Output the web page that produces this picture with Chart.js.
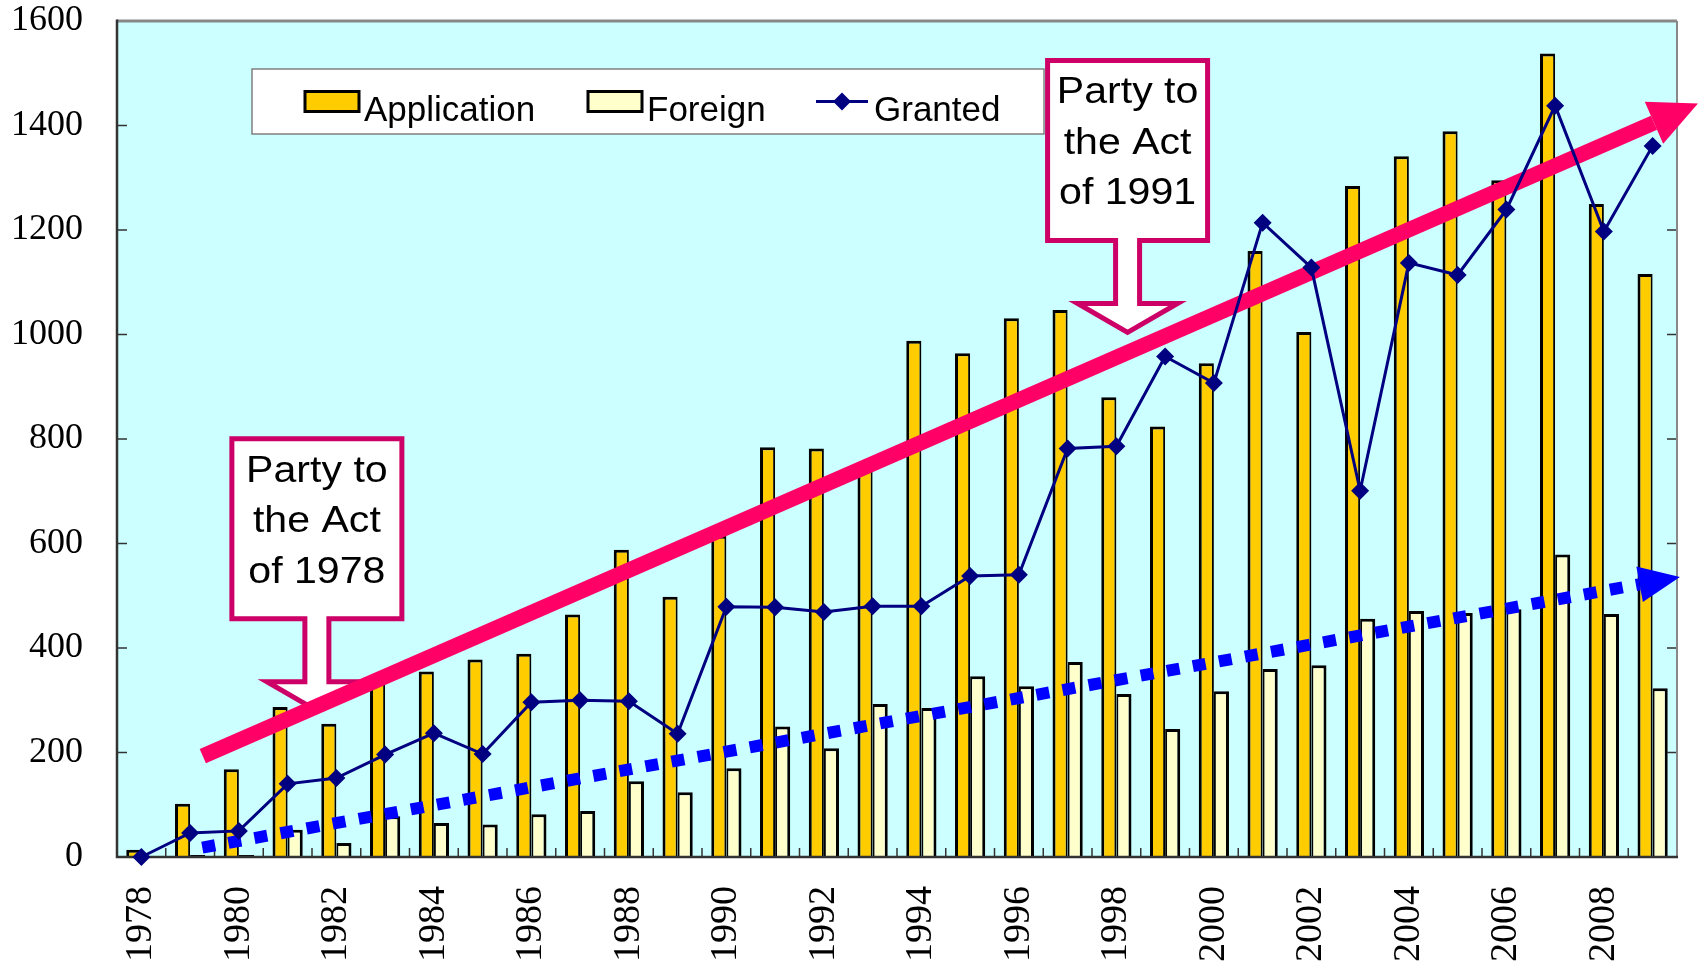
<!DOCTYPE html>
<html>
<head>
<meta charset="utf-8">
<script src="https://cdn.jsdelivr.net/npm/chart.js@4.4.0/dist/chart.umd.min.js"></script>
<style>
  body { margin: 0; background: #fff; }
  #wrap { width: 1703px; height: 963px; }
</style>
</head>
<body>
<div id="wrap"><canvas id="grantChart"></canvas></div>
<script>

const years = ['1978','1979','1980','1981','1982','1983','1984','1985','1986','1987',
    '1988','1989','1990','1991','1992','1993','1994','1995','1996','1997',
    '1998','1999','2000','2001','2002','2003','2004','2005','2006','2007',
    '2008','2009'];

const application = [14, 102, 168, 287, 255, 345, 355, 378, 389, 464,
    588, 498, 615, 784, 782, 745, 988, 964, 1031, 1047,
    880, 824, 945, 1160, 1005, 1284, 1341, 1389, 1295, 1538,
    1250, 1116];

const foreign = [2, 4, 4, 52, 27, 78, 65, 62, 82, 88,
    145, 124, 170, 250, 208, 293, 285, 346, 327, 373,
    312, 245, 317, 360, 367, 456, 471, 467, 474, 579,
    465, 323];

const granted = [0, 46, 50, 140, 151, 196, 237, 197, 296, 300,
    298, 236, 479, 478, 469, 480, 480, 538, 540, 782,
    786, 958, 907, 1214, 1128, 701, 1137, 1114, 1239, 1438,
    1197, 1361];

const yTicks = [0, 200, 400, 600, 800, 1000, 1200, 1400, 1600];

// trend arrows, [category index, value] for start and tip
const growthTrend = [[1.26, 193], [31.93, 1442]];
const foreignTrend = [[1.25, 18], [31.56, 536]];

// callout tips, [category index, value]
const actLabels = [
    ['Party to', 'the Act', 'of 1978'],
    ['Party to', 'the Act', 'of 1991']
];
const actTips = [[3.6, 280], [20.23, 1004]];
const actWidths = [170, 160];

const legendNames = ['Application', 'Foreign', 'Granted'];


function drawArrow(chart, trend, color, width, headLen, headHalf, dash) {
    const ctx = chart.ctx;
    const x = chart.scales.x, y = chart.scales.y;
    const x0 = x.getPixelForValue(trend[0][0]), y0 = y.getPixelForValue(trend[0][1]);
    const x1 = x.getPixelForValue(trend[1][0]), y1 = y.getPixelForValue(trend[1][1]);
    const len = Math.hypot(x1 - x0, y1 - y0);
    const ux = (x1 - x0) / len, uy = (y1 - y0) / len;
    const bx = x1 - ux * headLen, by = y1 - uy * headLen;
    ctx.save();
    ctx.strokeStyle = color;
    ctx.lineWidth = width;
    ctx.lineCap = 'butt';
    ctx.setLineDash(dash || []);
    ctx.beginPath();
    ctx.moveTo(x0, y0);
    ctx.lineTo(bx, by);
    ctx.stroke();
    ctx.setLineDash([]);
    ctx.fillStyle = color;
    ctx.beginPath();
    ctx.moveTo(x1, y1);
    ctx.lineTo(bx - uy * headHalf, by + ux * headHalf);
    ctx.lineTo(bx + uy * headHalf, by - ux * headHalf);
    ctx.closePath();
    ctx.fill();
    ctx.restore();
}

function drawCallout(chart, tip, boxW, lines) {
    const ctx = chart.ctx;
    const tx = chart.scales.x.getPixelForValue(tip[0]);
    const ty = chart.scales.y.getPixelForValue(tip[1]);
    const hh = 29, hw = 50, sw = 12, sh = 63, bh = 180, bw = boxW / 2;
    const headTop = ty - hh, stemTop = headTop - sh, boxTop = stemTop - bh;
    ctx.save();
    ctx.beginPath();
    ctx.moveTo(tx, ty);
    ctx.lineTo(tx + hw, headTop);
    ctx.lineTo(tx + sw, headTop);
    ctx.lineTo(tx + sw, stemTop);
    ctx.lineTo(tx + bw, stemTop);
    ctx.lineTo(tx + bw, boxTop);
    ctx.lineTo(tx - bw, boxTop);
    ctx.lineTo(tx - bw, stemTop);
    ctx.lineTo(tx - sw, stemTop);
    ctx.lineTo(tx - sw, headTop);
    ctx.lineTo(tx - hw, headTop);
    ctx.closePath();
    ctx.fillStyle = '#FFFFFF';
    ctx.fill();
    ctx.lineWidth = 5;
    ctx.lineJoin = 'miter';
    ctx.strokeStyle = '#CC0066';
    ctx.stroke();

    ctx.fillStyle = '#000';
    ctx.font = '37px "Liberation Sans", Arial, sans-serif';
    ctx.textAlign = 'center';
    ctx.textBaseline = 'alphabetic';
    lines.forEach((t, i) => {
        ctx.save();
        ctx.translate(tx, boxTop + 43 + i * 50.5);
        ctx.scale(1.11, 1);
        ctx.fillText(t, 0, 0);
        ctx.restore();
    });
    ctx.restore();
}

function drawFrame(chart) {
    const ctx = chart.ctx;
    const a = chart.chartArea;
    const x = chart.scales.x, y = chart.scales.y;
    ctx.save();
    ctx.strokeStyle = '#333';
    ctx.lineWidth = 1.5;
    ctx.beginPath();
    for (let i = 1; i < years.length; i++) {
        const px = x.getPixelForValue(i - 0.5);
        ctx.moveTo(px, a.bottom);
        ctx.lineTo(px, a.bottom - 9);
    }
    yTicks.forEach(v => {
        const py = y.getPixelForValue(v);
        ctx.moveTo(a.left, py);
        ctx.lineTo(a.left + 10, py);
        ctx.moveTo(a.right, py);
        ctx.lineTo(a.right - 10, py);
    });
    ctx.stroke();

    ctx.lineWidth = 3;
    ctx.strokeStyle = '#888';
    ctx.beginPath();
    ctx.moveTo(a.left, a.top);
    ctx.lineTo(a.right, a.top);
    ctx.stroke();
    ctx.lineWidth = 2;
    ctx.beginPath();
    ctx.moveTo(a.right, a.top);
    ctx.lineTo(a.right, a.bottom);
    ctx.stroke();
    ctx.strokeStyle = '#333';
    ctx.lineWidth = 2.5;
    ctx.beginPath();
    ctx.moveTo(a.left, a.top - 1.5);
    ctx.lineTo(a.left, a.bottom);
    ctx.lineTo(a.right + 1, a.bottom);
    ctx.stroke();
    ctx.restore();
}

function drawLegend(chart) {
    const ctx = chart.ctx;
    const a = chart.chartArea;
    const left = a.left + 135, top = a.top + 48;
    ctx.save();
    ctx.fillStyle = '#FFFFFF';
    ctx.fillRect(left, top, 792, 65);
    ctx.strokeStyle = '#808080';
    ctx.lineWidth = 1.5;
    ctx.strokeRect(left, top, 792, 65);

    const midY = top + 32.5;
    ctx.lineWidth = 3;
    ctx.strokeStyle = '#000';
    ctx.fillStyle = '#FFCC00';
    ctx.fillRect(left + 53, midY - 10, 54, 20);
    ctx.strokeRect(left + 53, midY - 10, 54, 20);
    ctx.fillStyle = '#FFFFCC';
    ctx.fillRect(left + 336, midY - 10, 54, 20);
    ctx.strokeRect(left + 336, midY - 10, 54, 20);

    ctx.strokeStyle = '#000080';
    ctx.beginPath();
    ctx.moveTo(left + 564, midY);
    ctx.lineTo(left + 616, midY);
    ctx.stroke();
    ctx.fillStyle = '#000080';
    ctx.beginPath();
    ctx.moveTo(left + 590 - 9, midY);
    ctx.lineTo(left + 590, midY - 9);
    ctx.lineTo(left + 590 + 9, midY);
    ctx.lineTo(left + 590, midY + 9);
    ctx.closePath();
    ctx.fill();

    ctx.fillStyle = '#000';
    ctx.font = '35px "Liberation Sans", Arial, sans-serif';
    ctx.textBaseline = 'alphabetic';
    ctx.textAlign = 'left';
    ctx.fillText(legendNames[0], left + 112, top + 52);
    ctx.fillText(legendNames[1], left + 395, top + 52);
    ctx.fillText(legendNames[2], left + 622, top + 52);
    ctx.restore();
}

const decor = {
    id: 'decor',
    beforeDraw(chart) {
        const a = chart.chartArea;
        chart.ctx.save();
        chart.ctx.fillStyle = '#CCFFFF';
        chart.ctx.fillRect(a.left, a.top, a.right - a.left, a.bottom - a.top);
        chart.ctx.restore();
    },
    beforeDatasetDraw(chart, args) {
        if (args.meta.type !== 'line') return;
        drawFrame(chart);
        actTips.forEach((tip, i) => drawCallout(chart, tip, actWidths[i], actLabels[i]));
        drawArrow(chart, growthTrend, '#FF0066', 15.5, 48, 23);
        drawArrow(chart, foreignTrend, '#0000FF', 12, 41, 18, [13, 13.5]);
    },
    afterDatasetsDraw(chart) {
        drawLegend(chart);
    }
};

const grantData = {
    labels: years,
    datasets: [{
        type: 'line',
        label: legendNames[2],
        data: granted,
        order: 0,
        clip: false,
        borderColor: '#000080',
        borderWidth: 3,
        tension: 0,
        pointStyle: 'rectRot',
        pointRadius: 9,
        pointHoverRadius: 9,
        pointBackgroundColor: '#000080',
        pointBorderWidth: 0
    },
    {
        type: 'bar',
        label: legendNames[0],
        data: application,
        order: 1,
        backgroundColor: '#FFCC00',
        borderColor: '#000',
        borderWidth: {top: 3, left: 3, right: 2, bottom: 0},
        categoryPercentage: 0.62,
        barPercentage: 1.0
    },
    {
        type: 'bar',
        label: legendNames[1],
        data: foreign,
        order: 2,
        backgroundColor: '#FFFFCC',
        borderColor: '#000',
        borderWidth: {top: 3, left: 2, right: 3, bottom: 0},
        categoryPercentage: 0.62,
        barPercentage: 1.0
    }]
};

const config1 =
{
    type: 'bar',
    data: grantData,
    plugins: [decor],
    options:
    {
        animation: false,
        responsive: true,
        maintainAspectRatio: false,
        events: [],
        layout: {
            padding: {top: 21, right: 26, left: 0, bottom: 0}
        },
        plugins:
        {
            legend: { display: false },
            tooltip: { enabled: false }
        },
        scales:
        {
            x:
            {
                grid: { display: false },
                border: { display: false },
                ticks: {
                    autoSkip: false,
                    minRotation: 90,
                    maxRotation: 90,
                    padding: 21,
                    color: '#000',
                    font: { family: '"Liberation Serif", serif', size: 38 },
                    callback: (v, i) => i % 2 === 0 ? years[i] : ''
                },
                afterFit: s => {
                    s.height = 106;
                    s.paddingLeft = 0;
                    s.paddingRight = 0;
                }
            },
            y:
            {
                min: 0,
                max: 1600,
                grid: { display: false },
                border: { display: false },
                ticks: {
                    stepSize: 200,
                    padding: 26,
                    color: '#000',
                    font: { family: '"Liberation Serif", serif', size: 36 },
                    callback: v => String(v)
                },
                afterFit: s => {
                    s.width = 117;
                    s.paddingTop = 0;
                    s.paddingBottom = 0;
                }
            }
        }
    }
};

const chart1 = new Chart(
    document.getElementById('grantChart'),
    config1
);
</script>
</body>
</html>
